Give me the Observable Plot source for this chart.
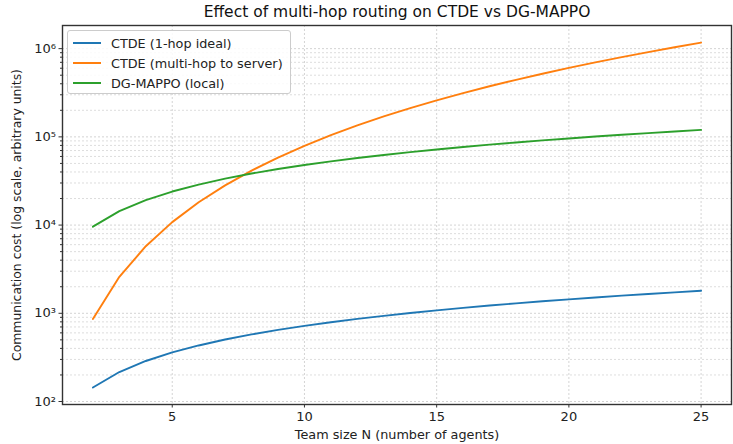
<!DOCTYPE html>
<html><head><meta charset="utf-8">
<script src="https://cdn.jsdelivr.net/npm/d3@7"></script>
<script src="https://cdn.jsdelivr.net/npm/@observablehq/plot@0.6"></script>
<style>
body{margin:0;background:#fff;font-family:"DejaVu Sans",sans-serif;}
#wrap{position:relative;width:733px;height:444px;}
#legend{position:absolute;left:67px;top:30px;width:222px;height:62px;border:1px solid #cccccc;border-radius:3px;background:rgba(255,255,255,0.85);font-size:12.8px;color:#222;}
#legend .row{position:absolute;left:0;height:18px;display:flex;align-items:center;white-space:nowrap;}
#legend .sw{width:28px;height:0;border-top:2px solid;margin-left:5px;margin-right:10px;}
</style></head><body><div id="wrap"><div id="legend"></div></div>
<script>
const N = [2,3,4,5,6,7,8,9,10,11,12,13,14,15,16,17,18,19,20,21,22,23,24,25];
const ctde1hop = [144,216,288,360,432,504,576,648,720,792,864,936,1008,1080,1152,1224,1296,1368,1440,1512,1584,1656,1728,1800];
const ctdeMultihop = [864,2592,5760,10800,18144,28224,41472,58320,79200,104544,134784,170352,211680,259200,313344,374544,443232,519840,604800,698544,801504,914112,1036800,1170000];
const dgMappo = [9600,14400,19200,24000,28800,33600,38400,43200,48000,52800,57600,62400,67200,72000,76800,81600,86400,91200,96000,100800,105600,110400,115200,120000];
const seriesNames = ["CTDE (1-hop ideal)", "CTDE (multi-hop to server)", "DG-MAPPO (local)"];
const seriesColors = ["#1f77b4", "#ff7f0e", "#2ca02c"];
const xTicks = [5,10,15,20,25];
const yMajor = [100,1000,10000,100000,1000000];
const yMinor = [];
for (const e of [2,3,4,5]) for (let m = 2; m <= 9; m++) yMinor.push(m * Math.pow(10, e));
const title = "Effect of multi-hop routing on CTDE vs DG-MAPPO";
const xLabel = "Team size N (number of agents)";
const yLabel = "Communication cost (log scale, arbitrary units)";

const sup = {"2":"²","3":"³","4":"⁴","5":"⁵","6":"⁶"};
const allSeries = [ctde1hop, ctdeMultihop, dgMappo];
const data = [];
allSeries.forEach((vals, s) => vals.forEach((v, i) => data.push({n: N[i], v, s: seriesNames[s]})));

const gridStyle = {stroke: "#b0b0b0", strokeOpacity: 0.7, strokeDasharray: "2,2", strokeWidth: 0.8};
const chart = Plot.plot({
  width: 733, height: 444,
  marginLeft: 62, marginRight: 2, marginTop: 25, marginBottom: 40,
  style: {fontFamily: "DejaVu Sans, sans-serif", fontSize: "13px", color: "#222", background: "#fff"},
  x: {domain: [0.85, 26.15]},
  y: {type: "log", domain: [92.5, 1.83e6]},
  color: {domain: seriesNames, range: seriesColors},
  marks: [
    Plot.gridY(yMinor, {...gridStyle, strokeOpacity: 0.55}),
    Plot.gridY(yMajor, gridStyle),
    Plot.gridX(xTicks, gridStyle),
    Plot.line(data, {x: "n", y: "v", z: "s", stroke: "s", strokeWidth: 1.9}),
    Plot.axisY(yMajor, {tickSize: 3.5, tickPadding: 3, tickFormat: d => "10" + sup[String(Math.round(Math.log10(d)))], label: null, stroke: "#333", fontSize: 13}),
    Plot.axisY(yMinor, {tickSize: 2, tickFormat: () => "", label: null, stroke: "#333"}),
    Plot.axisX(xTicks, {tickSize: 3.5, tickPadding: 4, label: null, stroke: "#333", fontSize: 13}),
    Plot.frame({stroke: "#333", strokeWidth: 1.4}),
    Plot.text([title], {frameAnchor: "top", dy: -20, fontSize: 15.5, fill: "#111"}),
    Plot.text([xLabel], {frameAnchor: "bottom", dy: 34, fontSize: 12.8, fill: "#222"}),
    Plot.text([yLabel], {frameAnchor: "left", dx: -45, rotate: -90, textAnchor: "middle", fontSize: 12.4, fill: "#222"})
  ]
});
const wrap = document.getElementById("wrap");
wrap.insertBefore(chart, wrap.firstChild);
const legend = document.getElementById("legend");
seriesNames.forEach((name, i) => {
  const row = document.createElement("div");
  row.className = "row";
  row.style.top = (3 + i * 20) + "px";
  row.innerHTML = `<span class="sw" style="border-color:${seriesColors[i]}"></span><span>${name}</span>`;
  legend.appendChild(row);
});
</script>
</body></html>
